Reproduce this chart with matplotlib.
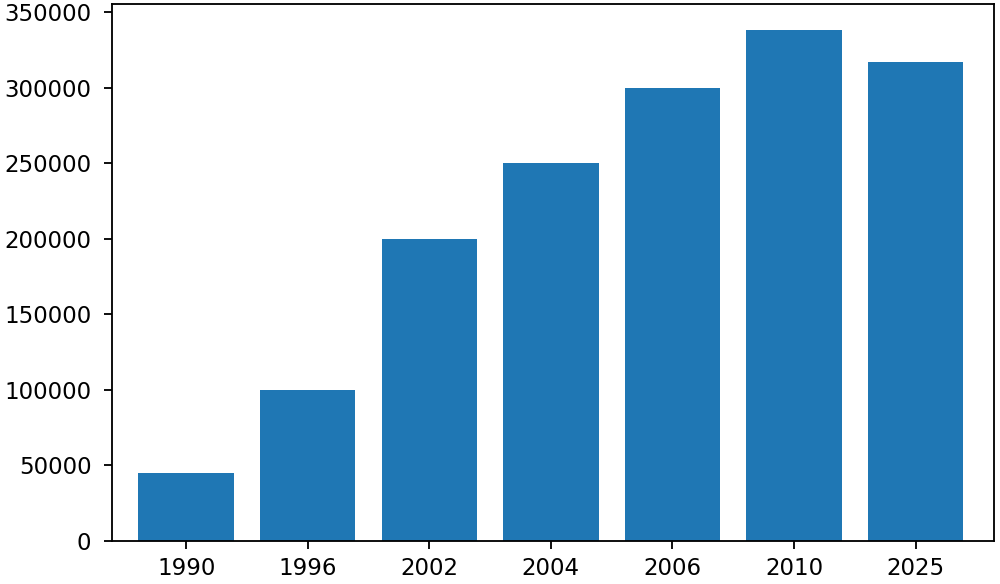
import matplotlib
matplotlib.use("Agg")
import matplotlib.pyplot as plt

years = ["1990", "1996", "2002", "2004", "2006", "2010", "2025"]
values = [45000, 100000, 200000, 250000, 300000, 338500, 317000]

DPI = 165
fig = plt.figure(figsize=(1000/DPI, 584/DPI), dpi=DPI)
ax = fig.add_axes([112/1000, 1 - 541/584, (994-112)/1000, (541-4)/584])
ax.bar(years, values, color="#1f77b4", width=0.785)
ax.set_xlim(-0.61, 6.645)
ax.tick_params(axis="y", pad=5.5)
fig.savefig("out.png", dpi=DPI)
